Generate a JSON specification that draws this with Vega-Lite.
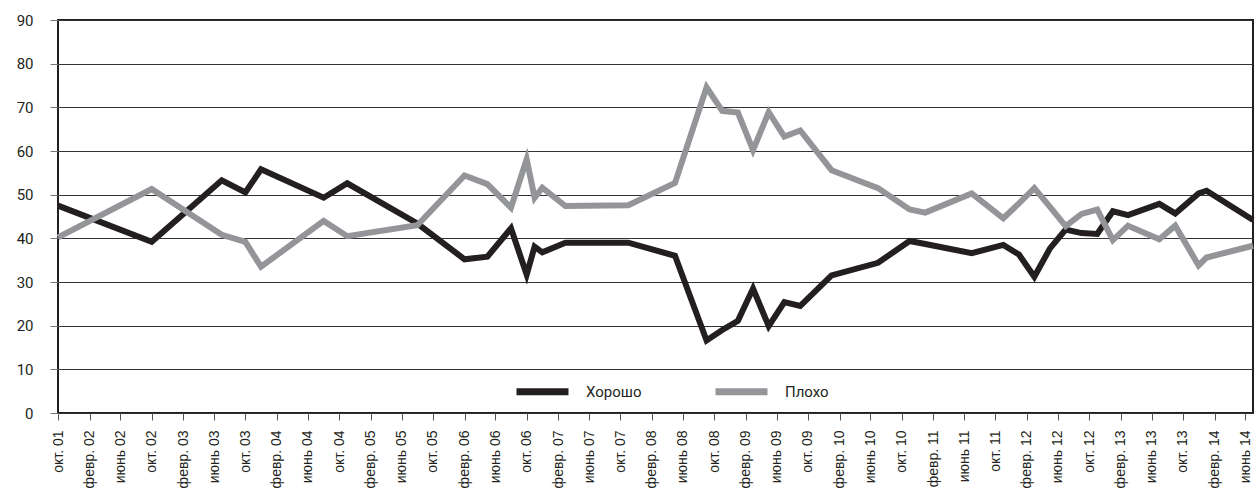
{
  "$schema": "https://vega.github.io/schema/vega-lite/v6.json",
  "width": 1195,
  "height": 393,
  "autosize": {"type": "none"},
  "padding": {"left": 58, "top": 20, "right": 3, "bottom": 87},
  "background": "white",
  "config": {
    "view": {"stroke": "#231f20", "strokeWidth": 2},
    "font": "Liberation Sans Narrow, Roboto, sans-serif"
  },
  "data": {
    "values": [
      {"date": "2001-10-01", "series": "Хорошо", "value": 47.5},
      {"date": "2002-10-01", "series": "Хорошо", "value": 39.2},
      {"date": "2003-07-01", "series": "Хорошо", "value": 53.3},
      {"date": "2003-10-01", "series": "Хорошо", "value": 50.5},
      {"date": "2003-12-01", "series": "Хорошо", "value": 55.8},
      {"date": "2004-08-01", "series": "Хорошо", "value": 49.3},
      {"date": "2004-11-01", "series": "Хорошо", "value": 52.6},
      {"date": "2005-08-01", "series": "Хорошо", "value": 43.4},
      {"date": "2006-02-01", "series": "Хорошо", "value": 35.2},
      {"date": "2006-05-01", "series": "Хорошо", "value": 35.8},
      {"date": "2006-08-01", "series": "Хорошо", "value": 42.3},
      {"date": "2006-10-01", "series": "Хорошо", "value": 31.7},
      {"date": "2006-11-01", "series": "Хорошо", "value": 38.1},
      {"date": "2006-12-01", "series": "Хорошо", "value": 36.8},
      {"date": "2007-03-01", "series": "Хорошо", "value": 39.0},
      {"date": "2007-11-01", "series": "Хорошо", "value": 39.0},
      {"date": "2008-05-01", "series": "Хорошо", "value": 36.0},
      {"date": "2008-09-01", "series": "Хорошо", "value": 16.6},
      {"date": "2008-11-01", "series": "Хорошо", "value": 19.0},
      {"date": "2009-01-01", "series": "Хорошо", "value": 21.1},
      {"date": "2009-03-01", "series": "Хорошо", "value": 28.5},
      {"date": "2009-05-01", "series": "Хорошо", "value": 19.9},
      {"date": "2009-07-01", "series": "Хорошо", "value": 25.4},
      {"date": "2009-09-01", "series": "Хорошо", "value": 24.5},
      {"date": "2010-01-01", "series": "Хорошо", "value": 31.5},
      {"date": "2010-07-01", "series": "Хорошо", "value": 34.4},
      {"date": "2010-11-01", "series": "Хорошо", "value": 39.4},
      {"date": "2011-01-01", "series": "Хорошо", "value": 38.7},
      {"date": "2011-07-01", "series": "Хорошо", "value": 36.6},
      {"date": "2011-11-01", "series": "Хорошо", "value": 38.5},
      {"date": "2012-01-01", "series": "Хорошо", "value": 36.3},
      {"date": "2012-03-01", "series": "Хорошо", "value": 31.2},
      {"date": "2012-05-01", "series": "Хорошо", "value": 37.7},
      {"date": "2012-07-01", "series": "Хорошо", "value": 42.0},
      {"date": "2012-09-01", "series": "Хорошо", "value": 41.2},
      {"date": "2012-11-01", "series": "Хорошо", "value": 41.0},
      {"date": "2013-01-01", "series": "Хорошо", "value": 46.2},
      {"date": "2013-03-01", "series": "Хорошо", "value": 45.3},
      {"date": "2013-07-01", "series": "Хорошо", "value": 47.9},
      {"date": "2013-09-01", "series": "Хорошо", "value": 45.7},
      {"date": "2013-12-01", "series": "Хорошо", "value": 50.3},
      {"date": "2014-01-01", "series": "Хорошо", "value": 50.9},
      {"date": "2014-07-01", "series": "Хорошо", "value": 44.2},
      {"date": "2001-10-01", "series": "Плохо", "value": 40.2},
      {"date": "2002-10-01", "series": "Плохо", "value": 51.3},
      {"date": "2003-07-01", "series": "Плохо", "value": 40.8},
      {"date": "2003-10-01", "series": "Плохо", "value": 39.2},
      {"date": "2003-12-01", "series": "Плохо", "value": 33.5},
      {"date": "2004-08-01", "series": "Плохо", "value": 44.0},
      {"date": "2004-11-01", "series": "Плохо", "value": 40.5},
      {"date": "2005-08-01", "series": "Плохо", "value": 43.0},
      {"date": "2006-02-01", "series": "Плохо", "value": 54.4},
      {"date": "2006-05-01", "series": "Плохо", "value": 52.4},
      {"date": "2006-08-01", "series": "Плохо", "value": 47.0},
      {"date": "2006-10-01", "series": "Плохо", "value": 58.1},
      {"date": "2006-11-01", "series": "Плохо", "value": 49.3},
      {"date": "2006-12-01", "series": "Плохо", "value": 51.6},
      {"date": "2007-03-01", "series": "Плохо", "value": 47.4},
      {"date": "2007-11-01", "series": "Плохо", "value": 47.6},
      {"date": "2008-05-01", "series": "Плохо", "value": 52.7},
      {"date": "2008-09-01", "series": "Плохо", "value": 74.6},
      {"date": "2008-11-01", "series": "Плохо", "value": 69.2},
      {"date": "2009-01-01", "series": "Плохо", "value": 68.8},
      {"date": "2009-03-01", "series": "Плохо", "value": 60.2},
      {"date": "2009-05-01", "series": "Плохо", "value": 68.9},
      {"date": "2009-07-01", "series": "Плохо", "value": 63.3},
      {"date": "2009-09-01", "series": "Плохо", "value": 64.7},
      {"date": "2010-01-01", "series": "Плохо", "value": 55.6},
      {"date": "2010-07-01", "series": "Плохо", "value": 51.5},
      {"date": "2010-11-01", "series": "Плохо", "value": 46.6},
      {"date": "2011-01-01", "series": "Плохо", "value": 45.9},
      {"date": "2011-07-01", "series": "Плохо", "value": 50.3},
      {"date": "2011-11-01", "series": "Плохо", "value": 44.6},
      {"date": "2012-01-01", "series": "Плохо", "value": 48.0},
      {"date": "2012-03-01", "series": "Плохо", "value": 51.5},
      {"date": "2012-05-01", "series": "Плохо", "value": 47.2},
      {"date": "2012-07-01", "series": "Плохо", "value": 42.8},
      {"date": "2012-09-01", "series": "Плохо", "value": 45.6},
      {"date": "2012-11-01", "series": "Плохо", "value": 46.6},
      {"date": "2013-01-01", "series": "Плохо", "value": 39.6},
      {"date": "2013-03-01", "series": "Плохо", "value": 42.9},
      {"date": "2013-07-01", "series": "Плохо", "value": 39.8},
      {"date": "2013-09-01", "series": "Плохо", "value": 42.9},
      {"date": "2013-12-01", "series": "Плохо", "value": 33.8},
      {"date": "2014-01-01", "series": "Плохо", "value": 35.6},
      {"date": "2014-07-01", "series": "Плохо", "value": 38.3}
    ]
  },
  "mark": {"type": "line", "strokeWidth": 6, "strokeJoin": "miter"},
  "encoding": {
    "x": {
      "field": "date",
      "type": "temporal",
      "scale": {
        "type": "utc",
        "domain": [
          {"year": 2001, "month": 10, "date": 1, "utc": true},
          {"year": 2014, "month": 7, "date": 1, "utc": true}
        ]
      },
      "axis": {
        "title": null,
        "grid": false,
        "domain": false,
        "values": [
          {"year": 2001, "month": 10, "date": 1, "utc": true},
          {"year": 2002, "month": 2, "date": 1, "utc": true},
          {"year": 2002, "month": 6, "date": 1, "utc": true},
          {"year": 2002, "month": 10, "date": 1, "utc": true},
          {"year": 2003, "month": 2, "date": 1, "utc": true},
          {"year": 2003, "month": 6, "date": 1, "utc": true},
          {"year": 2003, "month": 10, "date": 1, "utc": true},
          {"year": 2004, "month": 2, "date": 1, "utc": true},
          {"year": 2004, "month": 6, "date": 1, "utc": true},
          {"year": 2004, "month": 10, "date": 1, "utc": true},
          {"year": 2005, "month": 2, "date": 1, "utc": true},
          {"year": 2005, "month": 6, "date": 1, "utc": true},
          {"year": 2005, "month": 10, "date": 1, "utc": true},
          {"year": 2006, "month": 2, "date": 1, "utc": true},
          {"year": 2006, "month": 6, "date": 1, "utc": true},
          {"year": 2006, "month": 10, "date": 1, "utc": true},
          {"year": 2007, "month": 2, "date": 1, "utc": true},
          {"year": 2007, "month": 6, "date": 1, "utc": true},
          {"year": 2007, "month": 10, "date": 1, "utc": true},
          {"year": 2008, "month": 2, "date": 1, "utc": true},
          {"year": 2008, "month": 6, "date": 1, "utc": true},
          {"year": 2008, "month": 10, "date": 1, "utc": true},
          {"year": 2009, "month": 2, "date": 1, "utc": true},
          {"year": 2009, "month": 6, "date": 1, "utc": true},
          {"year": 2009, "month": 10, "date": 1, "utc": true},
          {"year": 2010, "month": 2, "date": 1, "utc": true},
          {"year": 2010, "month": 6, "date": 1, "utc": true},
          {"year": 2010, "month": 10, "date": 1, "utc": true},
          {"year": 2011, "month": 2, "date": 1, "utc": true},
          {"year": 2011, "month": 6, "date": 1, "utc": true},
          {"year": 2011, "month": 10, "date": 1, "utc": true},
          {"year": 2012, "month": 2, "date": 1, "utc": true},
          {"year": 2012, "month": 6, "date": 1, "utc": true},
          {"year": 2012, "month": 10, "date": 1, "utc": true},
          {"year": 2013, "month": 2, "date": 1, "utc": true},
          {"year": 2013, "month": 6, "date": 1, "utc": true},
          {"year": 2013, "month": 10, "date": 1, "utc": true},
          {"year": 2014, "month": 2, "date": 1, "utc": true},
          {"year": 2014, "month": 6, "date": 1, "utc": true}
        ],
        "labelExpr": "(utcmonth(datum.value) == 9 ? 'окт. ' : utcmonth(datum.value) == 1 ? 'февр. ' : 'июнь ') + utcFormat(datum.value, '%y')",
        "labelAngle": -90,
        "labelFont": "Liberation Sans, Arial, sans-serif",
        "labelFontSize": 14,
        "labelColor": "#231f20",
        "labelPadding": 10,
        "labelOverlap": false,
        "labelBound": false,
        "labelFlush": false,
        "tickSize": 7,
        "tickColor": "#555555",
        "tickWidth": 1
      }
    },
    "y": {
      "field": "value",
      "type": "quantitative",
      "scale": {"domain": [0, 90], "nice": false, "zero": true},
      "axis": {
        "title": null,
        "values": [0, 10, 20, 30, 40, 50, 60, 70, 80, 90],
        "grid": true,
        "gridColor": "#333333",
        "gridWidth": 1,
        "domain": false,
        "tickSize": 8,
        "tickColor": "#777777",
        "labelFontSize": 15,
        "labelColor": "#231f20",
        "labelPadding": 17
      }
    },
    "color": {
      "field": "series",
      "type": "nominal",
      "sort": ["Хорошо", "Плохо"],
      "scale": {"domain": ["Хорошо", "Плохо"], "range": ["#231f20", "#939598"]},
      "legend": {
        "title": null,
        "orient": "none",
        "direction": "horizontal",
        "legendX": 455,
        "legendY": 342,
        "symbolType": "stroke",
        "symbolSize": 2700,
        "symbolStrokeWidth": 7,
        "labelFontSize": 15,
        "labelColor": "#231f20",
        "labelOffset": 14,
        "columnPadding": 59
      }
    }
  }
}
